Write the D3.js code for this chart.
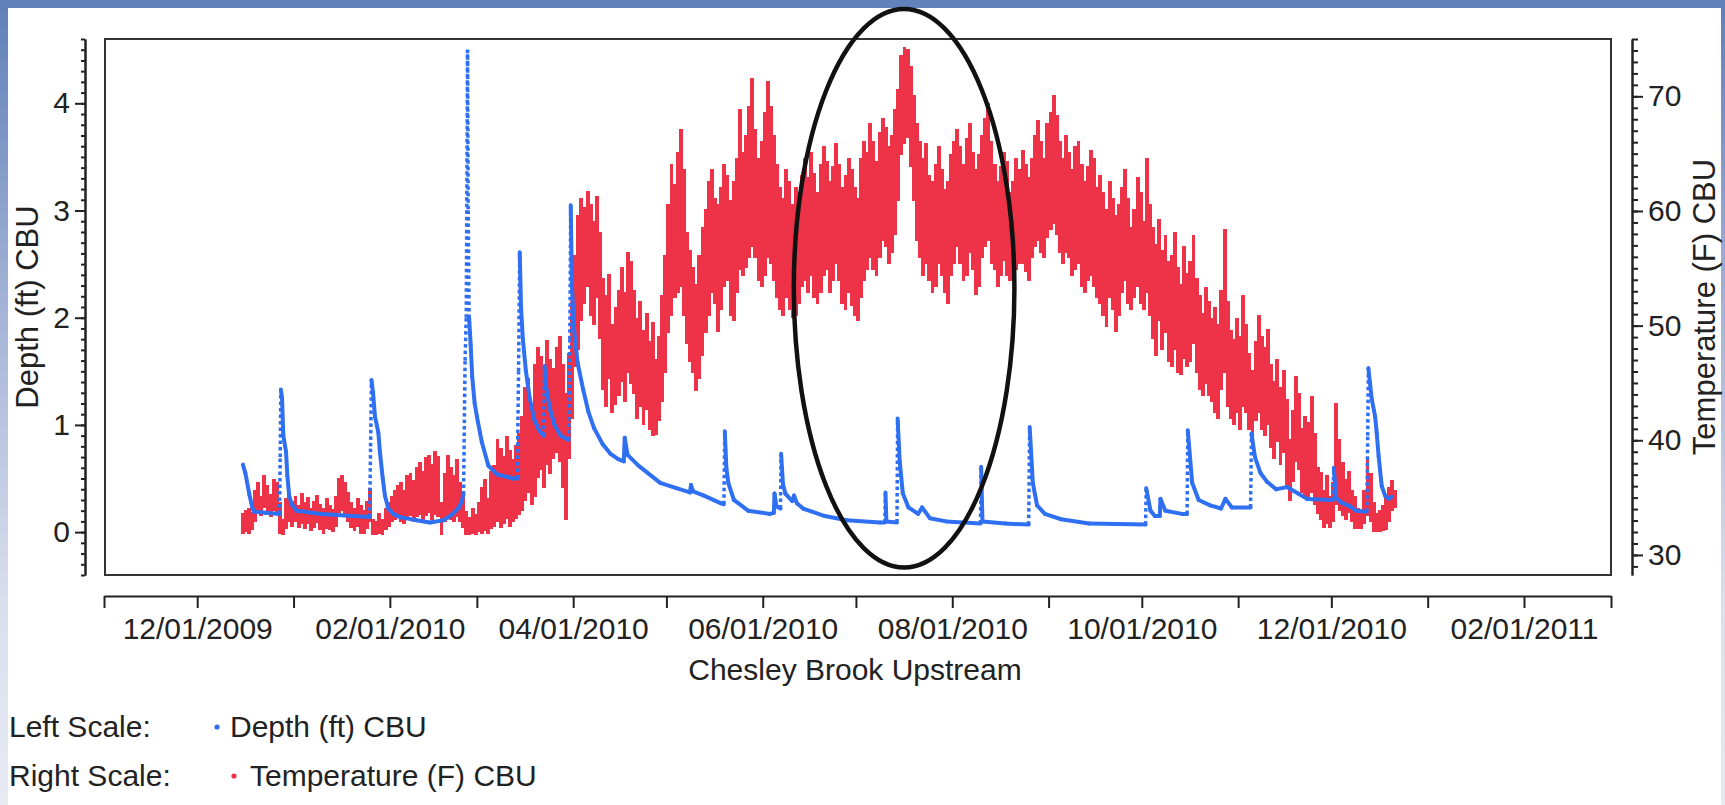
<!DOCTYPE html>
<html>
<head>
<meta charset="utf-8">
<script src="https://cdn.jsdelivr.net/npm/d3@7"></script>
<style>
  html, body { margin: 0; padding: 0; background: #fff; }
  svg { display: block; font-family: "Liberation Sans", Arial, sans-serif; }
</style>
</head>
<body>
<svg id="chart" width="1725" height="805"></svg>
<script>
// ---- axis definitions ----
const xDomain = ["2009-11-01", "2011-03-01"];
const monthTicks = ["2009-11-01","2009-12-01","2010-01-01","2010-02-01","2010-03-01","2010-04-01",
  "2010-05-01","2010-06-01","2010-07-01","2010-08-01","2010-09-01","2010-10-01","2010-11-01",
  "2010-12-01","2011-01-01","2011-02-01","2011-03-01"];
const monthLabels = ["","12/01/2009","","02/01/2010","","04/01/2010","","06/01/2010","",
  "08/01/2010","","10/01/2010","","12/01/2010","","02/01/2011",""];
const depthDomain = [-0.4, 4.6];
const depthTicks = [0, 1, 2, 3, 4];
const tempDomain = [28.25, 75];
const tempTicks = [30, 40, 50, 60, 70];

// ---- Depth (ft) CBU readings: [time, depth] ----
const depthReadings = [
  ["2009-12-15 17:00",0.63],["2009-12-16 12:00",0.55],["2009-12-17 19:00",0.35],["2009-12-18 19:00",0.22],
  ["2009-12-19 07:00",0.19],["2009-12-23 00:00",0.18],["2009-12-27 12:00",0.17],["2009-12-27 17:00",0.70],
  ["2009-12-27 22:00",1.33],["2009-12-28 07:00",1.25],["2009-12-28 17:00",0.90],["2009-12-29 14:00",0.75],
  ["2009-12-30 00:00",0.53],["2009-12-30 14:00",0.34],["2009-12-31 10:00",0.26],["2010-01-01 12:00",0.22],
  ["2010-01-02 00:00",0.20],["2010-01-10 00:00",0.17],["2010-01-20 00:00",0.15],["2010-01-25 12:00",0.14],
  ["2010-01-25 19:00",0.80],["2010-01-26 02:00",1.42],["2010-01-26 14:00",1.30],["2010-01-27 05:00",1.08],
  ["2010-01-28 07:00",0.93],["2010-01-28 19:00",0.75],["2010-01-29 17:00",0.50],["2010-01-30 10:00",0.34],
  ["2010-01-31 12:00",0.22],["2010-02-02 02:00",0.17],["2010-02-04 07:00",0.14],["2010-02-09 14:00",0.11],
  ["2010-02-13 22:00",0.09],["2010-02-18 05:00",0.11],["2010-02-20 10:00",0.15],["2010-02-23 00:00",0.22],
  ["2010-02-24 02:00",0.28],["2010-02-24 17:00",0.35],["2010-02-25 05:00",1.60],["2010-02-25 14:00",2.00],
  ["2010-02-26 00:00",4.50],["2010-02-26 05:00",3.00],["2010-02-26 12:00",2.00],["2010-02-27 00:00",1.75],
  ["2010-02-27 12:00",1.45],["2010-02-28 07:00",1.20],["2010-03-01 00:00",1.08],["2010-03-02 14:00",0.84],
  ["2010-03-04 17:00",0.62],["2010-03-07 10:00",0.54],["2010-03-12 17:00",0.50],["2010-03-14 00:00",0.50],
  ["2010-03-14 10:00",1.50],["2010-03-14 19:00",2.61],["2010-03-15 05:00",2.10],["2010-03-15 19:00",1.80],
  ["2010-03-16 19:00",1.50],["2010-03-18 00:00",1.25],["2010-03-19 12:00",1.05],["2010-03-21 00:00",0.95],
  ["2010-03-22 12:00",0.90],["2010-03-22 19:00",1.55],["2010-03-23 07:00",1.35],["2010-03-24 12:00",1.15],
  ["2010-03-26 00:00",1.00],["2010-03-28 00:00",0.90],["2010-03-30 14:00",0.86],["2010-03-30 22:00",1.80],
  ["2010-03-31 05:00",3.05],["2010-03-31 14:00",2.30],["2010-04-01 07:00",1.89],["2010-04-02 10:00",1.58],
  ["2010-04-04 05:00",1.33],["2010-04-05 22:00",1.12],["2010-04-07 17:00",0.97],["2010-04-10 12:00",0.82],
  ["2010-04-13 00:00",0.73],["2010-04-15 12:00",0.68],["2010-04-17 07:00",0.66],["2010-04-17 14:00",0.88],
  ["2010-04-18 12:00",0.72],["2010-04-22 00:00",0.62],["2010-04-29 00:00",0.46],["2010-05-04 05:00",0.41],
  ["2010-05-08 14:00",0.37],["2010-05-08 22:00",0.44],["2010-05-09 14:00",0.38],["2010-05-13 02:00",0.34],
  ["2010-05-18 10:00",0.27],["2010-05-19 12:00",0.26],["2010-05-19 19:00",0.94],["2010-05-20 07:00",0.60],
  ["2010-05-20 22:00",0.46],["2010-05-22 17:00",0.30],["2010-05-27 07:00",0.20],["2010-06-03 07:00",0.17],
  ["2010-06-04 14:00",0.18],["2010-06-04 19:00",0.36],["2010-06-05 10:00",0.24],["2010-06-06 17:00",0.22],
  ["2010-06-06 22:00",0.73],["2010-06-07 12:00",0.45],["2010-06-08 07:00",0.36],["2010-06-10 12:00",0.29],
  ["2010-06-11 02:00",0.34],["2010-06-12 00:00",0.27],["2010-06-14 00:00",0.22],["2010-06-21 00:00",0.15],
  ["2010-06-28 00:00",0.11],["2010-07-08 17:00",0.09],["2010-07-10 07:00",0.09],["2010-07-10 12:00",0.37],
  ["2010-07-10 19:00",0.10],["2010-07-14 05:00",0.09],["2010-07-14 10:00",1.06],["2010-07-15 02:00",0.66],
  ["2010-07-16 02:00",0.36],["2010-07-17 22:00",0.23],["2010-07-21 00:00",0.17],["2010-07-22 07:00",0.23],
  ["2010-07-24 19:00",0.13],["2010-07-30 00:00",0.10],["2010-08-10 02:00",0.08],["2010-08-10 07:00",0.61],
  ["2010-08-10 17:00",0.10],["2010-08-18 00:00",0.08],["2010-08-25 14:00",0.07],["2010-08-25 22:00",0.98],
  ["2010-08-26 22:00",0.46],["2010-08-28 07:00",0.25],["2010-08-30 19:00",0.17],["2010-09-05 00:00",0.12],
  ["2010-09-14 00:00",0.08],["2010-10-02 05:00",0.07],["2010-10-02 10:00",0.41],["2010-10-03 19:00",0.20],
  ["2010-10-05 05:00",0.15],["2010-10-06 19:00",0.15],["2010-10-07 00:00",0.31],["2010-10-08 14:00",0.20],
  ["2010-10-13 22:00",0.17],["2010-10-15 14:00",0.17],["2010-10-15 19:00",0.95],["2010-10-17 05:00",0.46],
  ["2010-10-19 07:00",0.30],["2010-10-23 00:00",0.25],["2010-10-26 12:00",0.22],["2010-10-27 22:00",0.31],
  ["2010-10-30 00:00",0.23],["2010-11-05 00:00",0.23],["2010-11-05 07:00",0.92],["2010-11-06 10:00",0.70],
  ["2010-11-08 05:00",0.55],["2010-11-10 07:00",0.47],["2010-11-13 05:00",0.40],["2010-11-16 17:00",0.42],
  ["2010-11-20 07:00",0.36],["2010-11-23 05:00",0.31],["2010-12-01 12:00",0.30],["2010-12-01 19:00",0.60],
  ["2010-12-02 12:00",0.32],["2010-12-04 00:00",0.28],["2010-12-07 00:00",0.24],["2010-12-09 00:00",0.20],
  ["2010-12-12 10:00",0.19],["2010-12-12 17:00",0.90],["2010-12-12 22:00",1.53],["2010-12-14 00:00",1.24],
  ["2010-12-15 02:00",1.08],["2010-12-15 14:00",0.93],["2010-12-16 05:00",0.71],["2010-12-17 05:00",0.43],
  ["2010-12-18 07:00",0.34],["2010-12-19 10:00",0.31],["2010-12-20 10:00",0.33]
];

// ---- Temperature (F) CBU: daily [high, low], one entry per day from tempStart ----
const tempStart = "2009-12-15";
const tempHighLow = [
  // Dec 15-31 2009
  [33.5,32.0],[33.8,32.1],[34.0,32.0],[33.6,32.3],[35.5,33.0],[36.2,33.8],[35.0,33.5],[36.8,34.2],[36.0,33.6],
  [35.2,33.4],[36.5,34.0],[36.2,33.8],[34.5,32.0],[33.0,31.9],[34.8,32.4],[35.2,33.0],[34.6,32.6],
  // Jan 2010
  [35.0,33.0],[34.2,32.5],[35.3,32.8],[34.5,32.4],[34.9,32.8],[34.0,32.2],[34.6,32.5],[35.1,32.9],[34.3,32.3],
  [34.0,32.0],[34.8,32.4],[34.2,32.3],[33.9,32.1],[35.0,32.6],[36.6,33.8],[36.8,34.0],[36.2,33.6],[35.4,33.0],
  [34.5,32.5],[34.0,32.2],[34.8,32.6],[34.2,32.0],[33.8,32.0],[34.6,32.4],[35.7,33.0],[33.0,31.9],[32.8,31.9],
  [33.5,32.0],[33.0,31.9],[34.0,32.3],[34.5,32.6],
  // Feb 2010
  [35.0,33.0],[35.5,33.2],[36.0,33.5],[36.2,33.0],[35.5,32.8],[36.8,33.2],[37.0,33.5],[36.4,33.0],[37.5,33.4],
  [38.0,33.6],[37.2,33.1],[38.4,33.5],[38.6,33.8],[37.8,33.2],[38.9,33.6],[38.5,33.4],[34.5,31.9],[37.0,33.0],
  [38.6,33.5],[37.5,33.2],[36.8,33.0],[38.2,33.4],[36.2,33.0],[35.0,32.5],[33.7,31.9],[33.2,31.9],[34.0,32.0],
  [33.4,31.9],
  // Mar 2010
  [34.5,32.1],[35.8,32.0],[36.5,32.2],[34.8,32.0],[37.2,32.4],[37.7,32.6],[40.0,33.0],[39.2,32.5],[38.5,32.8],
  [40.2,33.3],[39.0,32.6],[38.2,33.0],[39.5,33.3],[40.5,33.6],[42.0,34.0],[44.5,34.8],[45.3,35.5],[43.0,34.5],
  [46.5,35.2],[48.0,36.8],[47.2,37.5],[45.5,36.0],[48.6,38.0],[47.0,37.2],[46.2,38.5],[48.0,39.0],[49.0,38.2],
  [46.5,36.0],[44.0,33.2],[47.5,38.5],[52.0,42.0],
  // Apr 2010
  [56.0,46.5],[59.5,48.0],[61.0,50.5],[60.2,52.0],[61.6,53.5],[60.5,51.0],[59.0,50.2],[61.2,52.5],[58.0,49.0],
  [54.0,44.5],[52.5,43.0],[54.4,45.5],[50.0,42.5],[51.5,43.2],[53.0,44.0],[55.0,45.2],[52.8,43.5],[56.3,46.0],
  [55.5,45.0],[53.0,44.2],[50.5,42.0],[52.0,43.0],[49.5,41.5],[51.0,42.8],[48.5,41.0],[50.2,40.5],[47.0,40.6],
  [49.0,41.8],[52.5,43.5],[56.0,46.0],
  // May 2010
  [60.5,49.5],[64.0,51.0],[62.2,52.5],[65.0,53.0],[67.0,53.5],[63.5,51.0],[58.0,48.5],[56.5,47.0],[55.0,46.0],
  [53.5,44.4],[56.0,45.5],[58.5,47.5],[60.0,49.5],[62.5,51.0],[63.5,53.0],[61.0,52.0],[60.5,49.6],[62.0,51.5],
  [64.0,53.5],[63.0,54.0],[60.8,51.0],[62.5,50.5],[64.5,53.0],[68.8,55.0],[65.0,54.5],[66.5,55.2],[69.0,56.0],
  [71.5,57.0],[67.0,56.0],[64.5,54.0],[66.0,53.5],
  // Jun 2010
  [68.5,54.5],[71.2,56.0],[69.0,55.5],[66.5,54.0],[64.0,52.5],[62.0,51.5],[61.0,51.0],[63.5,52.5],[62.5,51.5],
  [60.5,50.8],[62.0,51.0],[61.5,52.0],[63.0,53.5],[64.5,54.0],[62.8,53.0],[65.0,54.5],[63.2,52.5],[61.5,52.0],
  [64.0,53.0],[65.5,54.5],[64.2,55.0],[62.5,53.0],[63.8,54.0],[65.8,55.5],[64.0,54.0],[62.0,52.0],[63.0,51.5],
  [64.5,53.0],[63.5,51.8],[62.0,51.0],
  // Jul 2010
  [61.0,50.5],[64.5,52.5],[66.0,54.0],[65.0,55.0],[67.5,56.0],[66.0,55.0],[64.2,54.5],[66.8,56.0],[68.0,57.5],
  [67.2,57.0],[65.5,55.5],[66.5,56.5],[68.8,58.0],[70.5,61.0],[73.5,65.0],[74.2,66.0],[74.0,66.5],[72.5,64.0],
  [70.0,61.0],[67.5,57.5],[66.0,56.0],[64.5,54.5],[65.8,55.5],[63.0,54.0],[62.5,53.0],[64.0,53.5],[65.5,55.5],
  [63.5,54.5],[61.8,53.0],[62.5,52.0],[64.8,54.5],
  // Aug 2010
  [66.0,55.5],[67.0,57.0],[65.5,55.5],[64.0,54.0],[66.2,54.5],[67.5,56.5],[65.0,55.0],[63.5,52.8],[64.8,53.5],
  [66.5,56.0],[68.0,57.0],[69.3,57.5],[66.0,55.5],[64.0,55.0],[62.5,53.5],[63.8,54.5],[65.0,55.8],[64.2,54.5],
  [61.5,54.0],[62.5,54.0],[64.5,55.0],[63.5,55.5],[65.2,55.5],[64.0,54.8],[62.8,54.0],[64.5,56.0],[66.5,57.0],
  [67.8,57.5],[66.0,56.5],[64.5,56.0],[67.5,57.8],
  // Sep 2010
  [68.5,58.5],[70.0,59.0],[68.2,58.0],[66.0,56.5],[64.5,55.5],[66.5,56.5],[65.0,56.0],[63.5,54.5],[65.5,55.0],
  [66.0,55.5],[64.0,53.5],[62.5,53.0],[63.8,54.0],[65.2,54.5],[64.5,53.5],[62.0,52.5],[63.0,52.0],[61.5,51.0],
  [60.0,50.0],[62.5,52.5],[61.0,51.5],[59.5,49.6],[60.5,51.0],[62.0,53.0],[63.5,54.0],[61.0,52.0],[58.5,51.5],
  [60.0,52.5],[62.8,53.5],[61.5,52.0],
  // Oct 2010
  [59.0,51.5],[64.5,53.0],[60.5,51.0],[58.5,49.0],[57.0,47.5],[59.2,50.5],[56.5,48.0],[57.8,49.5],[55.5,47.0],
  [56.0,46.5],[58.0,48.0],[55.0,46.0],[53.5,45.8],[56.8,47.2],[54.5,46.5],[55.5,47.0],[57.8,48.5],[54.0,46.0],
  [52.5,44.5],[51.0,44.0],[53.2,45.0],[52.0,44.0],[50.5,43.5],[51.5,42.5],[50.0,42.0],[53.0,44.5],[58.3,46.0],
  [52.0,43.0],[49.5,42.0],[48.7,41.5],[50.5,42.5],
  // Nov 2010
  [49.0,41.0],[52.5,43.0],[50.0,42.5],[47.5,41.0],[46.0,40.5],[48.5,41.8],[50.8,42.5],[49.0,41.0],[48.0,40.5],
  [49.6,41.5],[46.5,39.5],[45.0,38.5],[47.0,40.0],[44.5,38.0],[46.0,39.0],[43.5,36.0],[40.0,34.8],[42.5,36.5],
  [45.5,38.2],[44.0,37.5],[40.9,35.5],[42.0,35.0],[41.5,34.8],[43.7,35.5],[40.5,34.5],[37.5,33.7],[37.1,33.2],
  [35.5,32.5],[36.8,32.8],[35.0,32.5],
  // Dec 1-21 2010
  [36.2,33.0],[43.1,34.5],[40.0,34.0],[38.0,33.5],[36.5,33.2],[37.2,33.8],[35.5,33.0],[35.0,32.4],[34.0,32.4],
  [33.5,32.4],[35.5,32.8],[38.3,33.5],[37.0,33.0],[34.5,32.1],[33.5,32.1],[33.8,32.1],[34.2,32.2],[35.0,32.3],
  [35.8,33.0],[36.4,34.0],[35.5,34.2]
];

// highlighted period (ellipse), given in data units
const noteDates = ["2010-06-11", "2010-08-21"];
const noteDepths = [-0.33, 4.88];

// ---- drawing ----
const W = 1725, H = 805;
const blue = "#2f6ff2", red = "#ee3349", ink = "#222";
const parseDay = d3.utcParse("%Y-%m-%d");
const parseTime = d3.utcParse("%Y-%m-%d %H:%M");
const plot = { left: 105, right: 1611, top: 39, bottom: 575 };

const svg = d3.select("#chart");
const defs = svg.append("defs");

// window frame
const edge = defs.append("linearGradient").attr("id", "edge")
  .attr("x1", 0).attr("y1", 0).attr("x2", 0).attr("y2", 1);
[["0%", "#5f7fb8"], ["38%", "#a4b3d6"], ["75%", "#d9dfed"], ["100%", "#e7eaf2"]]
  .forEach(([o, c]) => edge.append("stop").attr("offset", o).attr("stop-color", c));
svg.append("rect").attr("width", W).attr("height", H).attr("fill", "#fff");
svg.append("rect").attr("x", 0).attr("y", 0).attr("width", 8).attr("height", H).attr("fill", "url(#edge)");
svg.append("rect").attr("x", W - 4).attr("y", 0).attr("width", 4).attr("height", H).attr("fill", "url(#edge)");
svg.append("rect").attr("x", 0).attr("y", 0).attr("width", W).attr("height", 8).attr("fill", "#6282ba");

const x = d3.scaleUtc().domain(xDomain.map(parseDay)).range([104, 1611]);
const yDepth = d3.scaleLinear().domain(depthDomain).range([plot.bottom, plot.top]);
const yTemp = d3.scaleLinear().domain(tempDomain).range([plot.bottom, plot.top]);

defs.append("clipPath").attr("id", "plotClip").append("rect")
  .attr("x", plot.left).attr("y", plot.top)
  .attr("width", plot.right - plot.left).attr("height", plot.bottom - plot.top);

const gData = svg.append("g").attr("clip-path", "url(#plotClip)");

// temperature: one column per day spanning the daily low..high
const dayMs = 864e5;
const t0 = parseDay(tempStart);
const tempRows = tempHighLow.map((d, i) => ({ date: new Date(+t0 + i * dayMs), hi: d[0], lo: d[1] }));
gData.append("g").attr("shape-rendering", "crispEdges")
  .selectAll("rect").data(tempRows).join("rect")
  .attr("x", d => x(d.date))
  .attr("width", d => x(new Date(+d.date + dayMs)) - x(d.date) + 0.8)
  .attr("y", d => yTemp(d.hi) - 1.5)
  .attr("height", d => yTemp(d.lo) - yTemp(d.hi) + 3)
  .attr("fill", red);

// depth: sparse readings on fast rises/falls show as dotted runs
const depthRows = depthReadings.map(([t, v]) => ({ date: parseTime(t), v }));
const depthLine = d3.line().x(d => x(d.date)).y(d => yDepth(d.v));
const isSteep = ([a, b]) => {
  const rate = (b.v - a.v) / ((b.date - a.date) / dayMs);
  return rate > 1 || rate < -3;
};
gData.append("g").selectAll("path").data(d3.pairs(depthRows)).join("path")
  .attr("d", p => depthLine(p))
  .attr("fill", "none").attr("stroke", blue)
  .attr("stroke-width", p => isSteep(p) ? 3.5 : 4)
  .attr("stroke-dasharray", p => isSteep(p) ? "3.5 3" : null)
  .attr("stroke-linecap", p => isSteep(p) ? "butt" : "round");

// plot frame
svg.append("rect").attr("x", plot.left).attr("y", plot.top)
  .attr("width", plot.right - plot.left).attr("height", plot.bottom - plot.top)
  .attr("fill", "none").attr("stroke", "#333").attr("stroke-width", 2);

function styleAxis(g) {
  g.select(".domain").attr("stroke", ink).attr("stroke-width", 2);
  g.selectAll(".tick line").attr("stroke", ink).attr("stroke-width", 2);
  g.selectAll(".tick text").attr("fill", ink).attr("font-size", 30)
    .attr("font-family", '"Liberation Sans", Arial, sans-serif');
}

// left axis (depth)
const depthMinor = d3.range(-4, 47).map(i => i / 10);
svg.append("g").attr("transform", "translate(85,0)")
  .call(d3.axisLeft(yDepth).tickValues(depthMinor).tickSize(4).tickSizeOuter(0).tickFormat(""))
  .call(styleAxis);
svg.append("g").attr("transform", "translate(85,0)")
  .call(d3.axisLeft(yDepth).tickValues(depthTicks).tickSize(10).tickSizeOuter(0).tickPadding(5).tickFormat(d3.format("d")))
  .call(styleAxis);

// right axis (temperature)
const tempMinor = d3.range(29, 76);
svg.append("g").attr("transform", "translate(1632,0)")
  .call(d3.axisRight(yTemp).tickValues(tempMinor).tickSize(6).tickSizeOuter(0).tickFormat(""))
  .call(styleAxis);
svg.append("g").attr("transform", "translate(1632,0)")
  .call(d3.axisRight(yTemp).tickValues(tempTicks).tickSize(11).tickSizeOuter(0).tickPadding(5).tickFormat(d3.format("d")))
  .call(styleAxis);

// bottom time axis
svg.append("g").attr("transform", "translate(0,596)")
  .call(d3.axisBottom(x).tickValues(monthTicks.map(parseDay)).tickSize(12).tickSizeOuter(0)
    .tickPadding(10).tickFormat((d, i) => monthLabels[i]))
  .call(styleAxis);

// axis titles
svg.append("text").attr("transform", "translate(38,307) rotate(-90)")
  .attr("text-anchor", "middle").attr("font-size", 31).attr("fill", ink).text("Depth (ft) CBU");
svg.append("text").attr("transform", "translate(1715,307) rotate(-90)")
  .attr("text-anchor", "middle").attr("font-size", 31).attr("fill", ink).text("Temperature (F) CBU");
svg.append("text").attr("x", 855).attr("y", 680)
  .attr("text-anchor", "middle").attr("font-size", 30).attr("fill", ink).text("Chesley Brook Upstream");

// legend
const legend = [
  { label: "Left Scale:", name: "Depth (ft) CBU", color: blue, y: 737, dot: 217, text: 230 },
  { label: "Right Scale:", name: "Temperature (F) CBU", color: red, y: 786, dot: 234, text: 250 }
];
const lg = svg.append("g").attr("font-size", 30).attr("fill", ink);
legend.forEach(d => {
  lg.append("text").attr("x", 9).attr("y", d.y).text(d.label);
  lg.append("circle").attr("cx", d.dot).attr("cy", d.y - 10).attr("r", 2.6).attr("fill", d.color);
  lg.append("text").attr("x", d.text).attr("y", d.y).text(d.name);
});

// highlight ellipse
const ex0 = x(parseDay(noteDates[0])), ex1 = x(parseDay(noteDates[1]));
const ey0 = yDepth(noteDepths[1]), ey1 = yDepth(noteDepths[0]);
svg.append("ellipse")
  .attr("cx", (ex0 + ex1) / 2).attr("cy", (ey0 + ey1) / 2)
  .attr("rx", (ex1 - ex0) / 2).attr("ry", (ey1 - ey0) / 2)
  .attr("fill", "none").attr("stroke", "#111").attr("stroke-width", 4.5);
</script>
</body>
</html>
